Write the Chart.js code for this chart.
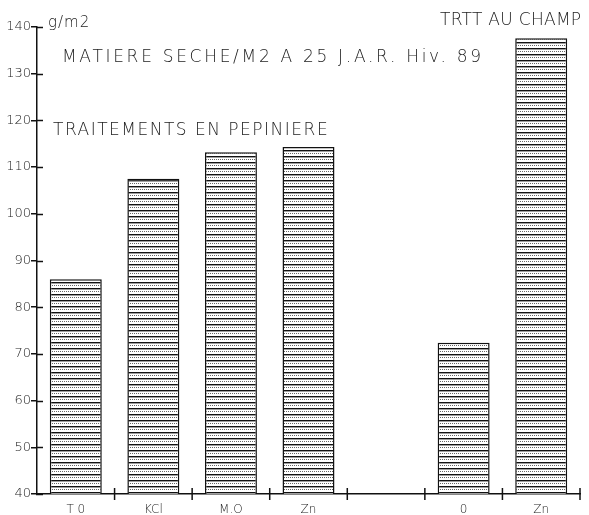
<!DOCTYPE html>
<html>
<head>
<meta charset="utf-8">
<script src="https://cdn.jsdelivr.net/npm/chart.js@4"></script>
<style>
  html, body { margin: 0; padding: 0; background: #fff; }
  #wrap { width: 589px; height: 515px; }
</style>
</head>
<body>
<div id="wrap"><canvas id="myChart"></canvas></div>
<script>
// categories (empty slot between nursery and field treatments)
const categories = ["T 0", "KCl", "M.O", "Zn", "", "0", "Zn"];
// dry matter g/m2 at 25 J.A.R.
const values = [86, 107.5, 113.2, 114.3, null, 72.4, 137.6];
const yTicks = [40, 50, 60, 70, 80, 90, 100, 110, 120, 130, 140];

const FONT = "'DejaVu Sans', sans-serif";

// horizontal hatching like the plotter fill
function stripes() {
  const c = document.createElement("canvas");
  c.width = 8;
  c.height = 6;
  const g = c.getContext("2d");
  g.fillStyle = "#fff";
  g.fillRect(0, 0, 8, 6);
  g.fillStyle = "#111";
  g.fillRect(0, 0, 8, 1.4);
  g.fillStyle = "#666";
  for (let i = 0; i < 8; i += 2) g.fillRect(i, 3, 1, 1);
  return g.createPattern(c, "repeat");
}

const plotterBits = {
  id: "plotterBits",
  afterDraw: (chart) => {
    const { ctx } = chart;
    const x = chart.scales.x;
    const y = chart.scales.y;
    const area = chart.chartArea;
    ctx.save();
    ctx.strokeStyle = "#111";
    ctx.lineWidth = 1.5;
    // y ticks crossing the axis (inner half)
    yTicks.forEach((v) => {
      const py = Math.round(y.getPixelForValue(v)) + 0.5;
      ctx.beginPath();
      ctx.moveTo(area.left - 1, py);
      ctx.lineTo(area.left + 6, py);
      ctx.stroke();
    });
    // x ticks at category boundaries
    const half = (x.getPixelForValue(1) - x.getPixelForValue(0)) / 2;
    for (let i = 0; i < categories.length; i++) {
      const px = x.getPixelForValue(i) + half;
      ctx.beginPath();
      ctx.moveTo(px, area.bottom - 6);
      ctx.lineTo(px, area.bottom + 6);
      ctx.stroke();
    }
    // texts
    ctx.fillStyle = "#222";
    ctx.textBaseline = "alphabetic";
    ctx.textAlign = "left";
    ctx.font = "300 15px " + FONT;
    ctx.letterSpacing = "1px";
    ctx.fillText("g/m2", 48, 27);
    ctx.font = "300 17px " + FONT;
    ctx.letterSpacing = "2.7px";
    ctx.fillText("MATIERE SECHE/M2 A 25 J.A.R. Hiv. 89", 62, 62);
    ctx.letterSpacing = "1.5px";
    ctx.fillText("TRAITEMENTS EN PEPINIERE", 53, 135);
    ctx.letterSpacing = "0.3px";
    ctx.fillText("TRTT AU CHAMP", 440, 25);
    ctx.restore();
  },
};

new Chart(document.getElementById("myChart"), {
  type: "bar",
  data: {
    labels: categories,
    datasets: [
      {
        data: values,
        backgroundColor: stripes(),
        borderColor: "#111",
        borderWidth: 1.5,
        borderSkipped: false,
        categoryPercentage: 1,
        barPercentage: 0.67,
      },
    ],
  },
  options: {
    responsive: true,
    maintainAspectRatio: false,
    animation: false,
    layout: { padding: { top: 27, right: 9, left: 0, bottom: 0 } },
    plugins: {
      legend: { display: false },
      tooltip: { enabled: false },
    },
    scales: {
      x: {
        grid: { display: false },
        border: { display: true, color: "#111", width: 1.5 },
        ticks: {
          color: "#222",
          font: { family: FONT, size: 12, weight: 300 },
          padding: 1,
          maxRotation: 0,
        },
        afterFit: (scale) => {
          scale.height = 21;
        },
      },
      y: {
        min: 40,
        max: 140,
        grid: {
          display: true,
          drawOnChartArea: false,
          drawTicks: true,
          tickLength: 6,
          color: "#111",
          lineWidth: 1.5,
        },
        border: { display: true, color: "#111", width: 1.5 },
        ticks: {
          stepSize: 10,
          color: "#222",
          font: { family: FONT, size: 13, weight: 300 },
          padding: 0,
        },
        afterFit: (scale) => {
          scale.width = 37;
        },
      },
    },
  },
  plugins: [plotterBits],
});
</script>
</body>
</html>
